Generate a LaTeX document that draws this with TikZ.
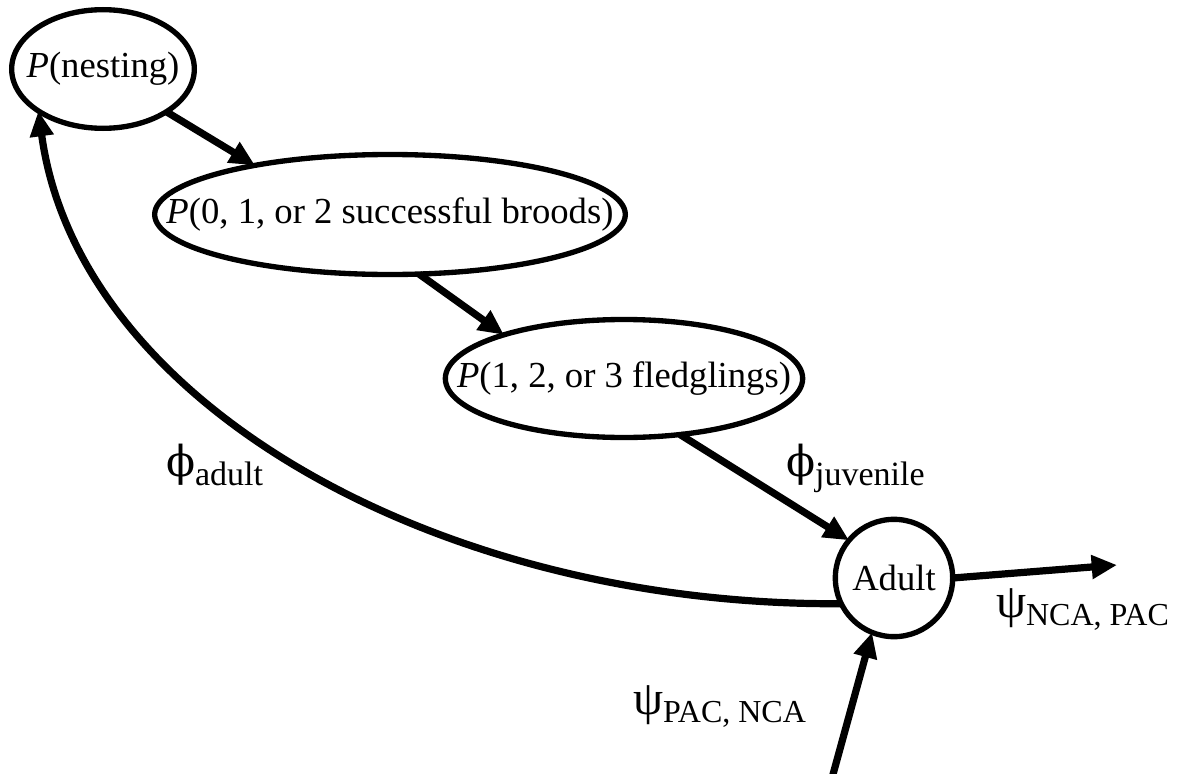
\documentclass[tikz,border=0pt]{standalone}
\usepackage{fontspec}
\setmainfont{Liberation Serif}
\newfontfamily\dejaserif{DejaVu Serif}
\usetikzlibrary{arrows.meta,shapes.geometric}
\newcommand{\mainsize}{\fontsize{27.5}{32}\selectfont}
\newcommand{\phiglyph}{{\dejaserif\fontsize{32}{36}\selectfont ϕ}}
\newcommand{\psiglyph}{{\fontsize{36}{40}\selectfont ψ}}
\newcommand{\lowsub}[1]{\raisebox{-7pt}{\fontsize{25.5}{30}\selectfont #1}}
\newcommand{\capsub}[1]{\raisebox{-6pt}{\fontsize{24}{28}\selectfont #1}}
\begin{document}
\begin{tikzpicture}[x=0.75pt,y=-0.75pt,
  every node/.style={inner sep=0pt, outer sep=0pt, font=\mainsize},
  state/.style={draw, line width=4pt, ellipse},
  adultstate/.style={draw, line width=4pt, circle, minimum size=88pt},
  link/.style={line width=5.4pt, -{Triangle[length=19pt,width=17pt]}},
  lab/.style={anchor=base west}]
\useasboundingbox (0,0) rectangle (1185,774);

\node[state, minimum width=137pt, minimum height=89pt] (nest) at (103,69)
  {\makebox[0pt]{\textit{P}(nesting)}};
\node[state, minimum width=353pt, minimum height=90pt] (broods) at (390,214.5)
  {\makebox[0pt]{\textit{P}(0, 1, or 2 successful broods)}};
\node[state, minimum width=268pt, minimum height=88.5pt] (fledge) at (624,378.5)
  {\makebox[0pt]{\textit{P}(1, 2, or 3 fledglings)}};
\node[adultstate] (adult) at (894,578) {Adult};

\node[lab] (phiA) at (166,476) {\phiglyph\lowsub{adult}};
\node[lab] (phiJ) at (786,476) {\phiglyph\lowsub{juvenile}};
\node[lab] (psiNP) at (996,617) {\psiglyph\capsub{NCA, PAC}};
\node[lab] (psiPN) at (633,714) {\psiglyph\capsub{PAC, NCA}};

\coordinate (outR) at (1117,565);
\coordinate (inB) at (832,778);
\coordinate (c1) at (437,606);
\coordinate (c2) at (78,403);

\draw[link] (nest.326) -- (broods.160);
\draw[link] (broods.296) -- (fledge.160);
\draw[link] (fledge.315) -- (adult.140);
\draw[link] (adult.east) -- (outR);
\draw[link] (inB) -- (adult.248);
\draw[link] (adult.206) .. controls (c1) and (c2) .. (nest.213);
\end{tikzpicture}
\end{document}
